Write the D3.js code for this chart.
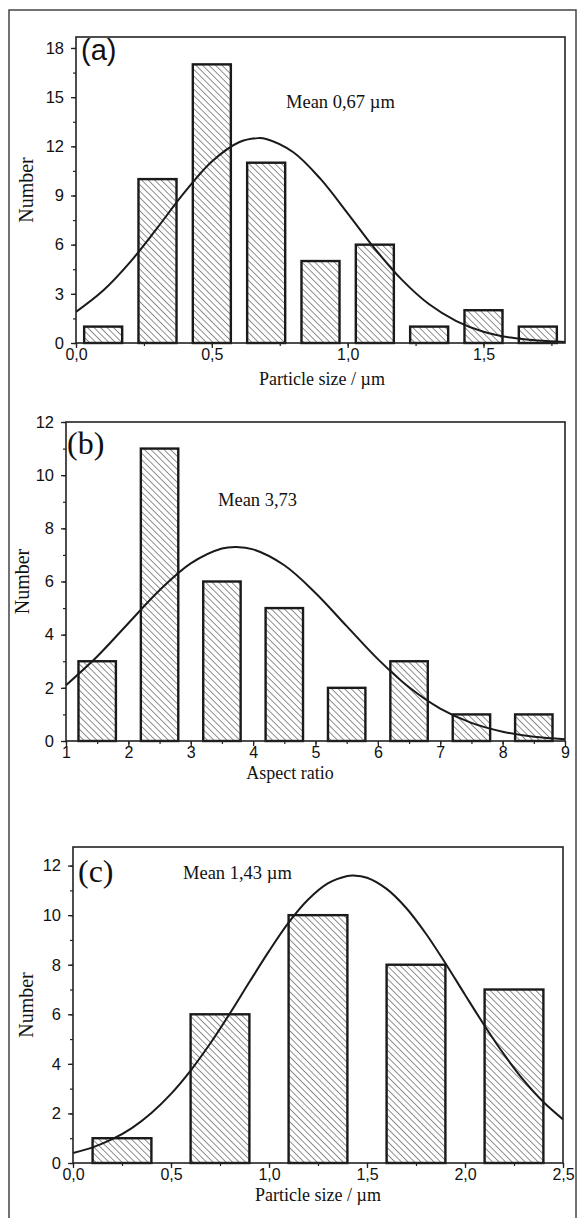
<!DOCTYPE html>
<html><head><meta charset="utf-8">
<script src="https://cdn.jsdelivr.net/npm/d3@7"></script>
<style>body{margin:0;background:#fff}svg{display:block}</style>
</head><body>
<svg id="c" width="577" height="1218"></svg>
<script>
// ---- Panel (a): particle size ----
const aCenters = [0.1,0.3,0.5,0.7,0.9,1.1,1.3,1.5,1.7];
const aCounts  = [1,10,17,11,5,6,1,2,1];
const aFitX = [0,0.1,0.2,0.3,0.4,0.5,0.6,0.67,0.7,0.8,0.9,1.0,1.1,1.2,1.3,1.4,1.5,1.6,1.7,1.8];
const aFitY = [1.90,3.20,4.95,7.04,9.20,11.07,12.25,12.5,12.45,11.64,10.01,7.91,5.75,3.85,2.36,1.34,0.69,0.33,0.15,0.06];
const aXTicks = [0,0.5,1.0,1.5];
const aYTicks = [0,3,6,9,12,15,18];

// ---- Panel (b): aspect ratio ----
const bCenters = [1.5,2.5,3.5,4.5,5.5,6.5,7.5,8.5];
const bCounts  = [3,11,6,5,2,3,1,1];
const bFitX = [1,1.5,2,2.5,3,3.5,3.73,4,4.5,5,5.5,6,6.5,7,7.5,8,8.5,9];
const bFitY = [2.10,3.18,4.43,5.67,6.68,7.24,7.3,7.21,6.61,5.57,4.32,3.08,2.02,1.22,0.68,0.35,0.16,0.07];
const bXTicks = [1,2,3,4,5,6,7,8,9];
const bYTicks = [0,2,4,6,8,10,12];

// ---- Panel (c): particle size ----
const cCenters = [0.25,0.75,1.25,1.75,2.25];
const cCounts  = [1,6,10,8,7];
const cFitX = [0,0.1,0.2,0.3,0.4,0.5,0.6,0.7,0.8,0.9,1.0,1.1,1.2,1.3,1.4,1.43,1.5,1.6,1.7,1.8,1.9,2.0,2.1,2.2,2.3,2.4,2.5];
const cFitY = [0.40,0.63,0.96,1.41,2.02,2.79,3.73,4.82,6.03,7.30,8.55,9.70,10.63,11.28,11.58,11.6,11.51,11.06,10.29,9.26,8.06,6.79,5.54,4.37,3.33,2.46,1.76];
const cXTicks = [0,0.5,1.0,1.5,2.0,2.5];
const cYTicks = [0,2,4,6,8,10,12];

const svg = d3.select("#c");
const defs = svg.append("defs");
const pat = defs.append("pattern").attr("id","hatch").attr("patternUnits","userSpaceOnUse")
  .attr("width",4.6).attr("height",4.6).attr("patternTransform","rotate(-45)");
pat.append("rect").attr("width",4.6).attr("height",4.6).attr("fill","#fff");
pat.append("line").attr("x1",0).attr("y1",0).attr("x2",0).attr("y2",4.6)
  .attr("stroke","#222").attr("stroke-width",1);

// outer frame
svg.append("rect").attr("x",9).attr("y",10).attr("width",567).attr("height",1240)
  .attr("fill","none").attr("stroke","#444").attr("stroke-width",1.5);

const fmt = d => d3.format(".1f")(d).replace(".", ",");
const sans = "'Liberation Sans', Arial, sans-serif";
const serif = "'Liberation Serif','Times New Roman',serif";

const panels = [
  {left:76,right:565,top:37,bottom:343,xd:[0,1.8],yd:[0,18.67],centers:aCenters,counts:aCounts,bw:0.14,
   fx:aFitX,fy:aFitY,xt:aXTicks,yt:aYTicks,xminor:0.25,yminor:1.5,xfmt:fmt,
   label:"(a)",labelFont:sans,labelSize:29,labelX:81,labelY:60,
   mean:"Mean 0,67 µm",meanX:286,meanY:108,xlab:"Particle size / µm",xlabX:322,xlabY:385,ylabX:33},
  {left:66,right:565,top:422,bottom:741,xd:[1,9],yd:[0,12],centers:bCenters,counts:bCounts,bw:0.6,
   fx:bFitX,fy:bFitY,xt:bXTicks,yt:bYTicks,xminor:0.5,yminor:1,xfmt:d=>d,
   label:"(b)",labelFont:serif,labelSize:32,labelX:67,labelY:454,
   mean:"Mean 3,73",meanX:218,meanY:506,xlab:"Aspect ratio",xlabX:290,xlabY:779,ylabX:29},
  {left:73,right:563,top:847,bottom:1163,xd:[0,2.5],yd:[0,12.75],centers:cCenters,counts:cCounts,bw:0.3,
   fx:cFitX,fy:cFitY,xt:cXTicks,yt:cYTicks,xminor:0.25,yminor:1,xfmt:fmt,
   label:"(c)",labelFont:serif,labelSize:32,labelX:78,labelY:882,
   mean:"Mean 1,43 µm",meanX:183,meanY:879,xlab:"Particle size / µm",xlabX:318,xlabY:1201,ylabX:33}
];

panels.forEach(p => {
  const x = d3.scaleLinear().domain(p.xd).range([p.left,p.right]);
  const y = d3.scaleLinear().domain(p.yd).range([p.bottom,p.top]);
  const g = svg.append("g");

  // bars
  g.selectAll("rect.bar").data(p.centers.map((c,i)=>({c,v:p.counts[i]}))).join("rect")
    .attr("x",d=>x(d.c-p.bw/2)).attr("width",d=>x(d.c+p.bw/2)-x(d.c-p.bw/2))
    .attr("y",d=>y(d.v)).attr("height",d=>y(0)-y(d.v))
    .attr("fill","url(#hatch)").attr("stroke","#1a1a1a").attr("stroke-width",2.4);

  // fit curve
  const line = d3.line().x(d=>x(d[0])).y(d=>y(d[1])).curve(d3.curveCatmullRom);
  g.append("path").datum(p.fx.map((v,i)=>[v,p.fy[i]])).attr("d",line)
    .attr("fill","none").attr("stroke","#1a1a1a").attr("stroke-width",2);

  // box
  g.append("rect").attr("x",p.left).attr("y",p.top).attr("width",p.right-p.left).attr("height",p.bottom-p.top)
    .attr("fill","none").attr("stroke","#222").attr("stroke-width",1.6);

  // minor ticks
  const xm = d3.range(p.xd[0], p.xd[1]+1e-9, p.xminor);
  g.append("g").attr("transform",`translate(0,${p.bottom})`)
    .call(d3.axisBottom(x).tickValues(xm).tickSize(3).tickFormat(""))
    .call(s=>s.select(".domain").remove()).selectAll("line").attr("stroke","#222").attr("stroke-width",1.2);
  const ym = d3.range(p.yd[0], p.yd[1]+1e-9, p.yminor);
  g.append("g").attr("transform",`translate(${p.left},0)`)
    .call(d3.axisLeft(y).tickValues(ym).tickSize(3).tickFormat(""))
    .call(s=>s.select(".domain").remove()).selectAll("line").attr("stroke","#222").attr("stroke-width",1.2);

  // major ticks
  const xa = g.append("g").attr("transform",`translate(0,${p.bottom})`)
    .call(d3.axisBottom(x).tickValues(p.xt).tickSize(5).tickPadding(1).tickFormat(p.xfmt));
  xa.select(".domain").remove();
  xa.selectAll("line").attr("stroke","#222").attr("stroke-width",1.3);
  xa.selectAll("text").attr("font-family",sans).attr("font-size",16).attr("fill","#111");
  const ya = g.append("g").attr("transform",`translate(${p.left},0)`)
    .call(d3.axisLeft(y).tickValues(p.yt).tickSize(5).tickPadding(7));
  ya.select(".domain").remove();
  ya.selectAll("line").attr("stroke","#222").attr("stroke-width",1.3);
  ya.selectAll("text").attr("font-family",sans).attr("font-size",16.5).attr("fill","#111");

  // texts
  g.append("text").attr("x",p.labelX).attr("y",p.labelY).text(p.label)
    .attr("font-family",p.labelFont).attr("font-size",p.labelSize).attr("fill","#111");
  g.append("text").attr("x",p.meanX).attr("y",p.meanY).text(p.mean)
    .attr("font-family",serif).attr("font-size",18.5).attr("fill","#111");
  g.append("text").attr("x",p.xlabX).attr("y",p.xlabY).attr("text-anchor","middle").text(p.xlab)
    .attr("font-family",serif).attr("font-size",18).attr("fill","#111");
  g.append("text").attr("transform",`translate(${p.ylabX},${(p.top+p.bottom)/2}) rotate(-90)`)
    .attr("text-anchor","middle").text("Number")
    .attr("font-family",serif).attr("font-size",20).attr("fill","#111");
});
</script>
</body></html>
